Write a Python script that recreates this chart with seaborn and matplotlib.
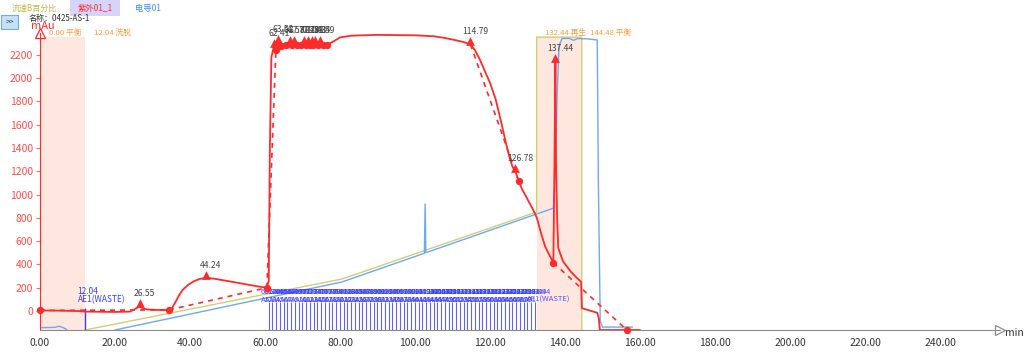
import numpy as np
import pandas as pd
import seaborn as sns
import matplotlib.pyplot as plt
from matplotlib.patches import Rectangle
import matplotlib.transforms as mtransforms

sns.set_style("white")
plt.rcParams["font.family"] = ["Noto Sans CJK SC", "DejaVu Sans"]

# UV 280 trace (min, mAu)
uv_t = [0.0, 5, 10, 12, 20, 24, 25.5, 26.55, 27.5, 29, 33, 34.4, 35.2, 36, 37, 38, 39.5, 41, 42.5, 44.24,
        46, 50, 54, 58, 60.5, 61.0, 61.3, 61.7, 62.41, 62.9, 63.52, 64.3, 65.6, 66.57, 67.2, 67.82, 68.6,
        69.6, 70.48, 71.0, 71.53, 72.0, 72.43, 72.9, 73.34, 74.0, 74.59, 75.4, 76.6, 78.5, 80, 83, 90, 100,
        105, 108, 111, 113, 114.79, 116, 117.3, 118.5, 120, 121.5, 123, 124.2, 125.2, 126.0, 126.78, 127.6,
        128.5, 130, 131.5, 132.5, 133.5, 134.7, 136.0, 136.9, 137.2, 137.44, 137.6, 137.9, 138.2, 139.5,
        141.5, 143, 144.3, 144.5, 146, 148.6, 149.0, 149.3, 160]
uv_mau = [5, 3, 0, -5, -8, -5, 20, 40, 20, 12, 8, 10, 25, 70, 130, 180, 225, 255, 275, 285,
          280, 258, 235, 212, 200, 260, 1400, 2180, 2280, 2240, 2310, 2280, 2285, 2305, 2285, 2305, 2285,
          2285, 2305, 2285, 2305, 2285, 2305, 2285, 2305, 2285, 2305, 2285, 2288, 2320, 2350, 2365, 2372, 2368,
          2360, 2345, 2325, 2310, 2290, 2240, 2160, 2070, 1960, 1820, 1620, 1450, 1320, 1240, 1200, 1120,
          1050, 960, 870, 800, 680, 555, 470, 415, 1300, 2150, 1300, 800, 540, 425,
          340, 290, 250, 25, 10, -15, -60, -163, -163]

peak_t = [26.55, 44.24, 62.41, 63.52, 66.57, 67.82, 70.48, 71.53, 72.43, 73.34, 74.59, 114.79, 126.78, 137.44]
peak_mau = [40, 285, 2280, 2310, 2305, 2305, 2305, 2305, 2305, 2305, 2305, 2290, 1200, 2150]

valley_t = [0.0, 34.4, 60.5, 62.9, 64.3, 65.6, 67.2, 68.6, 69.6, 71.0, 72.0, 72.9, 74.0, 75.4, 76.6, 127.6, 136.9, 156.5]
valley_mau = [5, 10, 200, 2240, 2280, 2285, 2285, 2285, 2285, 2285, 2285, 2285, 2285, 2285, 2288, 1120, 415, -163]

# dashed baselines, one id per segment
base_seg = [1, 1, 2, 2, 3, 3, 4, 4, 5, 5]
base_t = [0.0, 34.4, 34.4, 60.5, 60.5, 62.9, 114.79, 127.6, 136.9, 156.5]
base_mau = [5, 10, 10, 200, 200, 2240, 2290, 1120, 415, -163]

# conductivity (% of scale)
cond_t = [0, 4, 5, 6, 7, 7.5, 19, 20, 80.5, 102.5, 102.7, 102.9, 136.9, 137.5, 137.9, 138.4, 139.2, 141,
          142.3, 143.3, 146, 148.6, 148.9, 149.4, 150, 158]
cond_val = [0.8, 0.9, 1.3, 0.9, 0.3, -2, -2, 0, 16.4, 26.2, 43, 26.4, 41.6, 55, 80, 97, 99.5, 99.6,
            98.9, 99.5, 99.4, 99, 50, 3, 1, 1]

# flow B %
grad_t = [12.04, 80.5, 132.44, 132.44, 144.48, 144.48]
grad_b = [0, 17.4, 40.3, 100, 100, 0]

seg_t = [0.00, 12.04, 132.44, 144.48]
seg_name = ["平衡", "洗脱", "再生", "平衡"]

frac_t = [60.94, 61.94, 62.94, 63.94, 64.94, 65.94, 66.94, 67.94, 68.94, 69.94, 70.94, 71.94,
          72.94, 73.94, 74.94, 75.94, 76.94, 77.94, 78.94, 79.94, 80.94, 81.94, 82.94, 83.94,
          84.94, 85.94, 86.94, 87.94, 88.94, 89.94, 90.94, 91.94, 92.94, 93.94, 94.94, 95.94,
          96.94, 97.94, 98.94, 99.94, 100.94, 101.94, 102.94, 103.94, 104.94, 105.94, 106.94, 107.94,
          108.94, 109.94, 110.94, 111.94, 112.94, 113.94, 114.94, 115.94, 116.94, 117.94, 118.94, 119.94,
          120.94, 121.94, 122.94, 123.94, 124.94, 125.94, 126.94, 127.94, 128.94, 129.94, 130.94, 131.94]
frac_name = ["A%d" % (i + 1) for i in range(len(frac_t) - 1)] + ["AE1(WASTE)"]

RED = "#ff2a2a"
BLUE_C = "#6fa8f5"
KHAKI = "#cfcf78"
FRAC = "#3a3aff"
ORANGE = "#ff9a3c"

fig = plt.figure(figsize=(10.24, 3.59), dpi=100)
ax = fig.add_axes([40 / 1024, 29 / 359, 960 / 1024, 297 / 359])
ax2 = ax.twinx()

# twin axis: B% / conductivity / shading / fractions
ax2.axvspan(seg_t[0], seg_t[1], ymin=0, ymax=100 / 101.4, color="#fde7de", lw=0)
ax2.axvspan(seg_t[2], seg_t[3], ymin=0, ymax=100 / 101.4, color="#fde7de", lw=0)
sns.lineplot(x=grad_t, y=grad_b, ax=ax2, color=KHAKI, lw=1.0, sort=False, estimator=None)
sns.lineplot(x=cond_t, y=cond_val, ax=ax2, color=BLUE_C, lw=1.0, sort=False, estimator=None)
ax2.set_ylim(0, 101.4)

blend = mtransforms.blended_transform_factory(ax2.transData, ax2.transAxes)
ax2.vlines(frac_t, 0, 0.094, transform=blend, color=FRAC, lw=0.8, alpha=0.8)
ax2.vlines([12.04], 0, 0.074, transform=blend, color=FRAC, lw=1.0)
for t, n in zip(frac_t, frac_name):
    ax2.text(t - 2.0, 0.128, "%.2f" % t, transform=blend, fontsize=5.5, color=FRAC, alpha=0.85,
             ha="left", va="center")
    ax2.text(t - 2.0, 0.101, n, transform=blend, fontsize=5.5, color=FRAC, alpha=0.85,
             ha="left", va="center")
ax2.text(12.04 - 2.0, 0.131, "12.04", transform=blend, fontsize=6, color=FRAC, ha="left", va="center")
ax2.text(12.04 - 2.0, 0.101, "AE1(WASTE)", transform=blend, fontsize=6, color=FRAC, ha="left", va="center")
ax2.set_yticks([])
ax2.set_ylabel("")
for s in ax2.spines.values():
    s.set_visible(False)

# main UV axis on top
ax.set_zorder(ax2.get_zorder() + 1)
ax.patch.set_visible(False)
uv = pd.DataFrame({"t": uv_t, "mAu": uv_mau})
sns.lineplot(data=uv, x="t", y="mAu", ax=ax, color=RED, lw=1.3, sort=False, estimator=None)
base = pd.DataFrame({"seg": base_seg, "t": base_t, "mAu": base_mau})
sns.lineplot(data=base, x="t", y="mAu", units="seg", estimator=None, ax=ax, color=RED, lw=1.2,
             linestyle=(0, (3, 3)), sort=False)
sns.scatterplot(x=valley_t, y=valley_mau, ax=ax, color=RED, s=28, marker="o", edgecolor=RED,
                linewidth=0, clip_on=False, zorder=5)
sns.scatterplot(x=peak_t, y=[v + 25 for v in peak_mau], ax=ax, color=RED, s=40, marker="^",
                edgecolor=RED, linewidth=0, zorder=5)
for t, v in zip(peak_t, peak_mau):
    ax.annotate("%.2f" % t, (t, v), xytext=(3.5, 9), textcoords="offset points", fontsize=6.2,
                color="#444444", ha="center", va="center")

ax.set_xlim(0, 256)
ax.set_ylim(-163, 2388)
ax.set_xticks(range(0, 241, 20))
ax.set_xticklabels(["%.2f" % v for v in range(0, 241, 20)], fontsize=7.5, color="#333333")
ax.set_yticks(range(0, 2201, 200))
ax.set_yticklabels([str(v) for v in range(0, 2201, 200)], fontsize=7.5, color="#ff4a4a")
ax.tick_params(axis="x", length=3, color="#888888", pad=3)
ax.tick_params(axis="y", length=3, color="#ff6a6a", pad=2)
ax.set_xlabel("")
ax.set_ylabel("")
ax.spines["top"].set_visible(False)
ax.spines["right"].set_visible(False)
ax.spines["left"].set_color(RED)
ax.spines["bottom"].set_color("#8a8a8a")

# axis arrows
ax.plot([0], [1], transform=ax.transAxes, marker="^", ms=7, mfc="white", mec=RED, mew=0.9, clip_on=False)
ax.plot([1], [0], transform=ax.transAxes, marker=">", ms=7, mfc="white", mec="#8a8a8a", mew=0.9, clip_on=False)
fig.text(1005 / 1024, 1 - 333 / 359, "min", fontsize=7.5, color="#333333", ha="left", va="center")
fig.text(31 / 1024, 1 - 26 / 359, "mAu", fontsize=8, color=RED, ha="left", va="center")

# segment labels
top = mtransforms.blended_transform_factory(ax.transData, ax.transAxes)
for t, n in zip(seg_t, seg_name):
    ax.text(t + 2.3, 1.0, "%.2f %s" % (t, n), transform=top, fontsize=5.6, color=ORANGE,
            ha="left", va="center")

# header
fig.text(12 / 1024, 1 - 8 / 359, "流速B百分比", fontsize=5.8, color="#c2b84a", ha="left", va="center")
fig.patches.append(Rectangle((70 / 1024, 1 - 16 / 359), 50 / 1024, 16 / 359, transform=fig.transFigure,
                             facecolor="#d6d4fa", edgecolor="none"))
fig.text(95 / 1024, 1 - 8 / 359, "紫外01_1", fontsize=6, color=RED, ha="center", va="center")
fig.text(135 / 1024, 1 - 8 / 359, "电导01", fontsize=6, color="#3d8ff0", ha="left", va="center")
fig.patches.append(Rectangle((1 / 1024, 1 - 29 / 359), 17 / 1024, 14 / 359, transform=fig.transFigure,
                             facecolor="#c4e2f6", edgecolor="#7aaad6", lw=0.8))
fig.text(9.5 / 1024, 1 - 22 / 359, ">>", fontsize=5.5, color="#223366", ha="center", va="center")
fig.text(29 / 1024, 1 - 18 / 359, "名称：0425-AS-1", fontsize=5.8, color="#333333", ha="left", va="center")

fig.savefig("out.png", dpi=100)
